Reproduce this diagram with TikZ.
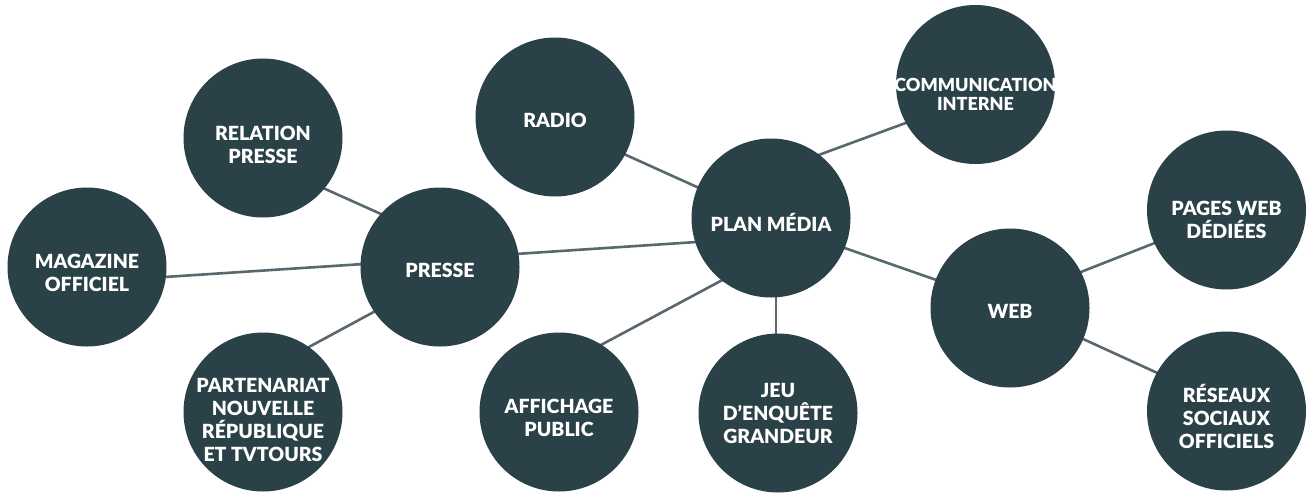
\documentclass[tikz,border=0pt]{standalone}
\usepackage{fontspec}
\newfontfamily\lblfont{Lato Black}
\usetikzlibrary{calc,backgrounds}
\definecolor{bubc}{HTML}{2B4148}
\definecolor{linkc}{HTML}{58686E}
\begin{document}
\begin{tikzpicture}[x=1pt,y=-1pt,
  bub/.style={circle,fill=bubc,draw=none,minimum size=159pt,inner sep=0pt},
  lbl/.style={text=white,font=\lblfont\fontsize{19.5}{23}\selectfont,align=center,inner sep=0pt},
  lblsmall/.style={lbl,font=\lblfont\fontsize{18}{19.5}\selectfont},
  link/.style={draw=linkc,line width=2.6pt}]
\useasboundingbox (0,0) rectangle (1308,493);
% bubbles
\node[bub] (rel)    at (263,138)  {};
\node[bub] (mag)    at (87,267)   {};
\node[bub] (presse) at (440,267)  {};
\node[bub] (part)   at (263,412)  {};
\node[bub] (radio)  at (555,117)  {};
\node[bub] (plan)   at (771,218)  {};
\node[bub] (affich) at (559,412)  {};
\node[bub] (jeu)    at (778,413)  {};
\node[bub] (comm)   at (975.5,84.5) {};
\node[bub] (web)    at (1010,308) {};
\node[bub] (pages)  at (1226.5,210) {};
\node[bub] (res)    at (1226.5,411) {};
% labels
\node[lbl] (relt)    at ($(rel)+(0,7)$)      {RELATION\\PRESSE};
\node[lbl] (magt)    at ($(mag)+(0,5.5)$)    {MAGAZINE\\OFFICIEL};
\node[lbl] (presset) at ($(presse)+(0,3)$)   {PRESSE};
\node[lbl] (partt)   at ($(part)+(0,8)$)     {PARTENARIAT\\NOUVELLE\\RÉPUBLIQUE\\ET TVTOURS};
\node[lbl] (radiot)  at ($(radio)+(0,3)$)    {RADIO};
\node[lbl] (plant)   at ($(plan)+(0,4)$)     {PLAN MÉDIA};
\node[lbl] (affitht) at ($(affich)+(0,6)$)   {AFFICHAGE\\PUBLIC};
\node[lbl] (jeut)    at ($(jeu)+(0,0)$)      {JEU\\D’ENQUÊTE\\GRANDEUR};
\node[lblsmall] (commt) at ($(comm)+(0,10)$) {COMMUNICATION\\INTERNE};
\node[lbl] (webt)    at ($(web)+(0,3)$)      {WEB};
\node[lbl] (pagest)  at ($(pages)+(0,10)$)   {PAGES WEB\\DÉDIÉES};
\node[lbl] (rest)    at ($(res)+(0,5)$)      {RÉSEAUX\\SOCIAUX\\OFFICIELS};
% connectors
\begin{scope}[on background layer]
\fill[white] (0,0) rectangle (1308,493);
\draw[link] ($(mag)+(1,15)$)      -- ($(presse)+(0,-8)$);
\draw[link] ($(rel)+(-9,19)$)     -- ($(presse)+(10,-22)$);
\draw[link] ($(part)+(-17,-31)$)  -- ($(presse)+(4,7)$);
\draw[link] ($(presse)+(0,-8)$)   -- ($(plan)+(1,19)$);
\draw[link] ($(radio)+(-2,5)$)    -- ($(plan)+(-1,2)$);
\draw[link] ($(affich)+(-18,-35)$) -- ($(plan)+(15,28)$);
\draw[link] ($(plan)+(5,0)$)      -- ($(jeu)+(-2,0)$);
\draw[link] ($(plan)+(-15,-40)$)  -- ($(comm)+(5,11)$);
\draw[link] ($(plan)+(-1,4)$)     -- ($(web)+(1,-2)$);
\draw[link] ($(web)+(-3,-7)$)     -- ($(pages)+(2,4)$);
\draw[link] ($(web)+(1,-2)$)      -- ($(res)+(3,-5)$);
\end{scope}
\end{tikzpicture}
\end{document}
